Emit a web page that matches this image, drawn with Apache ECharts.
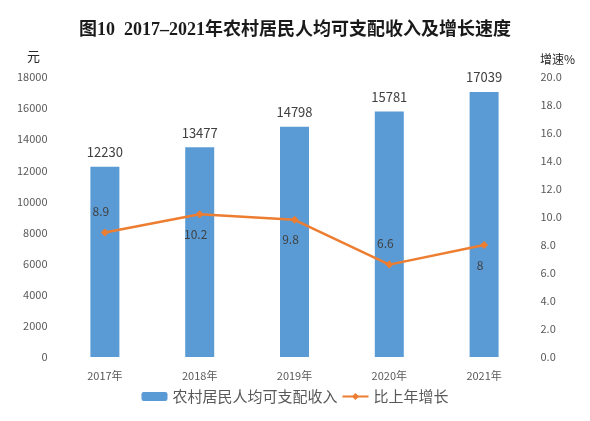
<!DOCTYPE html>
<html>
<head>
<meta charset="utf-8">
<script src="https://cdn.jsdelivr.net/npm/echarts@6/dist/echarts.min.js"></script>
<style>
  html, body { margin: 0; padding: 0; background: #fff; }
  #main { width: 590px; height: 421px; }
</style>
</head>
<body>
<div id="main"></div>
<script>
// 数据
const years = ['2017年', '2018年', '2019年', '2020年', '2021年'];
const income = [12230, 13477, 14798, 15781, 17039];
const growth = [8.9, 10.2, 9.8, 6.6, 8];
// 折线标签位置（上方/下方）
const growthLabelPos = ['top', 'bottom', 'bottom', 'top', 'bottom'];

const font = 'Noto Sans CJK SC, sans-serif';
const myChart = echarts.init(document.getElementById('main'));

myChart.setOption({
    animation: false,
    title: {
        text: '图10  2017–2021年农村居民人均可支配收入及增长速度',
        left: 'center',
        top: 16,
        textStyle: {
            fontFamily: 'Liberation Serif, Noto Sans CJK SC, serif',
            fontWeight: 'bold',
            fontSize: 18,
            color: '#1a1a1a'
        }
    },
    graphic: [
        { type: 'text', left: 27, top: 50, style: { text: '元', font: '13px ' + font, fill: '#262626' } },
        { type: 'text', left: 540, top: 53, style: { text: '增速%', font: '12px ' + font, fill: '#262626' } }
    ],
    legend: {
        bottom: 12,
        left: 'center',
        itemWidth: 26,
        itemHeight: 9,
        itemGap: 4,
        textStyle: { fontFamily: font, fontSize: 15, color: '#595959' },
        data: ['农村居民人均可支配收入', '比上年增长']
    },
    grid: { left: 57.5, right: 58.5, top: 77, bottom: 64 },
    xAxis: {
        type: 'category',
        data: years,
        axisLine: { show: false },
        axisTick: { show: false },
        axisLabel: { margin: 13, fontFamily: font, fontSize: 11, color: '#595959' }
    },
    yAxis: [
        {
            type: 'value',
            min: 0, max: 18000, interval: 2000,
            splitLine: { show: false },
            axisLine: { show: false },
            axisTick: { show: false },
            axisLabel: {
                margin: 10, fontFamily: font, fontSize: 11, color: '#595959',
                formatter: v => String(v)
            }
        },
        {
            type: 'value',
            min: 0, max: 20, interval: 2,
            splitLine: { show: false },
            axisLine: { show: false },
            axisTick: { show: false },
            axisLabel: {
                margin: 9,
                fontFamily: font, fontSize: 11, color: '#595959',
                formatter: v => v.toFixed(1)
            }
        }
    ],
    series: [
        {
            name: '农村居民人均可支配收入',
            type: 'bar',
            data: income,
            barWidth: 29,
            itemStyle: { color: '#5B9BD5' },
            label: {
                show: true,
                position: 'top',
                distance: 8,
                fontFamily: font,
                fontSize: 13,
                color: '#404040'
            }
        },
        {
            name: '比上年增长',
            type: 'line',
            yAxisIndex: 1,
            data: growth.map((v, i) => ({
                value: v,
                label: {
                    position: growthLabelPos[i],
                    distance: growthLabelPos[i] === 'top' ? 11 : 10,
                    offset: [-4, 0]
                }
            })),
            symbol: 'diamond',
            symbolSize: 8,
            lineStyle: { color: '#ED7D31', width: 2.5 },
            itemStyle: { color: '#ED7D31' },
            label: {
                show: true,
                fontFamily: font,
                fontSize: 12,
                color: '#404040'
            }
        }
    ]
});
</script>
</body>
</html>
